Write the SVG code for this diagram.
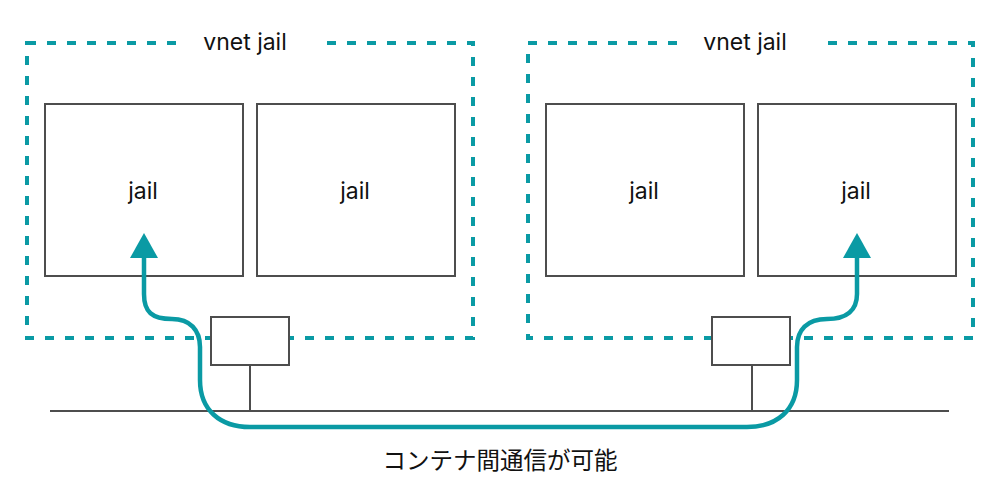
<svg xmlns="http://www.w3.org/2000/svg" width="1000" height="500" viewBox="0 0 1000 500">
<defs>
<style>
.vnet{fill:none;stroke:#0a9aa4;stroke-width:4;stroke-dasharray:9 11}
.box{fill:#fff;stroke:#4d4d4d;stroke-width:2}
.ln{fill:none;stroke:#4d4d4d;stroke-width:2}
.t{font-family:Inter,"Noto Sans",sans-serif;font-size:23px;fill:#111;text-anchor:middle}
.jp{font-family:"Noto Sans CJK JP",sans-serif;font-size:23.5px;fill:#111;text-anchor:middle}
.flow{fill:none;stroke:#0a9aa4;stroke-width:4.5}
</style>
</defs>
<g id="vnet1">
<rect class="vnet" x="27" y="43" width="446" height="295"/>
<rect x="180" y="30" width="140" height="26" fill="#fff"/>
<text class="t" x="245" y="50">vnet jail</text>
</g>
<g id="vnet2">
<rect class="vnet" x="528" y="43" width="445" height="295"/>
<rect x="681" y="30" width="140" height="26" fill="#fff"/>
<text class="t" x="745" y="50">vnet jail</text>
</g>
<g id="jail1"><rect class="box" x="45" y="104" width="198" height="172"/><text class="t" x="143" y="199">jail</text></g>
<g id="jail2"><rect class="box" x="257" y="104" width="198" height="172"/><text class="t" x="355" y="199">jail</text></g>
<g id="jail3"><rect class="box" x="546" y="104" width="198" height="172"/><text class="t" x="644" y="199">jail</text></g>
<g id="jail4"><rect class="box" x="758" y="104" width="198" height="172"/><text class="t" x="856" y="199">jail</text></g>
<g id="nic1"><rect class="box" x="211" y="317" width="78" height="48"/></g>
<g id="nic2"><rect class="box" x="712" y="317" width="78" height="48"/></g>
<g id="connectors">
<path class="ln" d="M50,411 H949"/>
<path class="ln" d="M250,365 V411"/>
<path class="ln" d="M752,365 V411"/>
<path class="flow" d="M144,258 L144,294 C144,312 152,319 172,319 C190,319 200,330 200,347 L200,380 C200,410 220,427 250,427 L747,427 C777,427 797,410 797,380 L797,347 C797,330 807,319 827,319 C847,319 857,310 857,294 L857,258"/>
<path d="M144,233 L130,258 L158,258 Z" fill="#0a9aa4"/>
<path d="M857,233 L843,258 L871,258 Z" fill="#0a9aa4"/>
</g>
<g id="caption"><text class="jp" x="500" y="469">コンテナ間通信が可能</text></g>
</svg>
